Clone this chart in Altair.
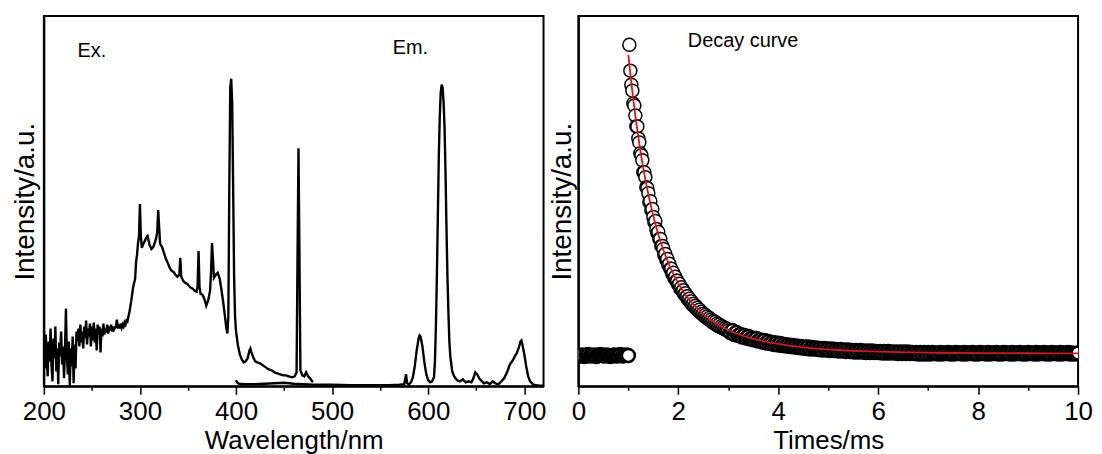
import altair as alt
import pandas as pd

# ---------------- data ----------------
# Excitation spectrum: noisy part sampled every 1 nm from 200 to 290 nm
EX_NOISY_START = 200
EX_NOISY_INT = [40, 18, 52, 30, 10, 45, 25, 58, 20, 5, 48, 28, 60, 15, 38, 2, 44, 30,
                55, 22, 40, 8, 35, 78, 30, 12, 45, 0, 38, 20, 50, 3, 42, 18, 55,
                45, 58, 40, 62, 44, 55, 38, 60, 48, 66, 42, 58, 50, 63, 40, 60, 46, 64, 44, 58,
                36, 62, 52, 60, 34, 58, 50, 63, 52, 58, 54, 62, 53, 60, 56, 62, 55, 60, 57, 59,
                60, 67, 58, 62, 58, 63, 59, 62, 60, 64, 62, 66, 65, 70, 74, 80]
# Excitation spectrum from 291 nm on
EX_WL = [291, 293, 295, 296, 297, 298, 299, 300, 301, 302, 303, 305, 307, 308, 310, 312, 314,
         316, 317, 318, 319, 320, 321, 323, 325, 327, 329, 331, 333, 335, 337, 339, 341, 342,
         343, 345, 347, 349, 351, 353, 355, 357, 359, 360, 361, 362, 363, 365, 367, 369, 371,
         373, 374, 375, 376, 377, 379, 381, 383, 385, 387, 389, 390, 391, 392, 393, 394, 395,
         396, 397, 398, 399, 400, 402, 404, 406, 408, 410, 412, 414, 415, 416, 418, 420, 422,
         425, 428, 431, 434, 437, 440, 443, 446, 449, 452, 455, 458, 461, 463, 464, 465, 466,
         467, 469, 471, 473, 475, 477, 480]
EX_INT = [86, 100, 108, 125, 132, 144, 150, 183, 150, 139, 142, 146, 150, 151, 142, 138, 140,
          146, 149, 155, 177, 160, 143, 140, 134, 128, 124, 119, 116, 115, 112, 110, 112, 129,
          110, 106, 104, 103, 101, 99, 98, 96, 95, 100, 136, 100, 93, 92, 88, 81, 86,
          96, 115, 144, 128, 109, 112, 114, 108, 96, 82, 66, 58, 53, 70, 200, 300, 309,
          285, 200, 110, 70, 55, 41, 32, 27, 24, 25, 28, 36, 38, 34, 29, 25, 24,
          23, 21, 19, 17, 16, 14, 13, 12, 11, 11, 10, 9, 10, 14, 130, 239, 130,
          16, 11, 10, 14, 10, 8, 4]

# Emission spectrum
EM_WL = [400, 401, 403, 410, 420, 430, 440, 450, 460, 470, 480, 500, 520, 540, 560, 570, 575, 577,
         578, 580, 582, 584, 586, 588, 590, 591, 592, 594, 596, 598, 600, 602, 604, 606, 607,
         608, 609, 610, 611, 612, 613, 614, 615, 616, 617, 618, 619, 620, 621, 622, 623, 625,
         627, 630, 633, 636, 639, 642, 645, 647, 649, 651, 653, 655, 658, 661, 664, 667, 670,
         673, 676, 679, 682, 685, 688, 690, 692, 694, 696, 697, 698, 700, 702, 704, 706, 709,
         712, 716, 720]
EM_INT = [6, 4, 2.5, 2, 2, 2.5, 3, 3.5, 2.5, 2, 1.5, 1.5, 1.2, 1.2, 1.2, 1.5, 2, 12,
          3, 2, 4, 9, 20, 36, 48, 51, 50, 40, 24, 12, 6, 4, 5, 9, 25,
          60, 110, 170, 230, 270, 295, 303, 300, 285, 260, 215, 160, 110, 75, 45, 30, 15,
          10, 6, 5, 7, 4, 5, 4, 8, 14, 12, 8, 6, 3, 4, 2, 5, 3,
          2, 5, 8, 14, 22, 26, 30, 33, 38, 45, 46, 42, 32, 20, 10, 5, 2,
          1, 0.5, 0.5]

# Decay curve: instrument sampling segments (start ms, step ms) and counts (a.u.)
PRE_START, PRE_STEP = 0.0, 0.04
FAST_START, FAST_STEP = 1.02, 0.02
SLOW_START, SLOW_STEP = 3.04, 0.04
PRE_INT = [31, 30.5, 31.5, 30, 31, 32, 30.5, 31, 31.5, 30, 31, 32, 31, 30.5, 31.5, 31,
           30, 31, 31.5, 30.5, 31, 32, 30.5, 31, 31.5, 31]
FAST_INT = [343, 317, 303, 297, 284, 282, 272, 261, 261, 249,
            245, 234, 232, 227, 215, 215, 210, 200, 199, 194,
            185, 186, 177, 178, 170, 165, 166, 158, 154, 155,
            148, 148, 141, 141, 138, 132, 133, 127, 128, 122,
            123, 118, 118, 113, 114, 109, 110, 106, 106, 102,
            103, 98, 99.5, 95.5, 96.5, 92.5, 93.5, 90, 90.5, 87,
            88, 84.5, 85.5, 82, 83, 80, 81, 78, 79, 76,
            77, 74, 75, 72.5, 73, 70.5, 71.5, 69, 70, 67.5,
            68.5, 66, 67, 64.5, 65.5, 63, 64.5, 62, 63, 60.5,
            62, 59.5, 60.5, 58.5, 59.5, 57.5, 58.5, 56.5, 57.5, 56]
SLOW_INT = [54, 56, 52, 54, 51, 52, 49.5, 51, 48.5,
            50, 47.5, 48.5, 46.5, 48, 45.5, 46.5, 44.5, 46, 43.5,
            45, 43, 44, 42, 43.5, 41.5, 43, 41, 42, 40.5,
            41.5, 40, 41, 39.5, 40.5, 39, 40, 38.5, 39.5, 38,
            39.5, 37.5, 39, 37.5, 38.5, 37, 38, 36.5, 38, 36.5,
            37.5, 36, 37.5, 36, 37, 35.5, 37, 35.5, 36.5, 35,
            36.5, 35, 36, 34.5, 36, 34.5, 36, 34.5, 35.5, 34,
            35.5, 34, 35.5, 34, 35, 34, 35, 33.5, 35, 33.5,
            35, 33.5, 34.5, 33.5, 34.5, 33, 34.5, 33, 34.5, 33,
            34.5, 33, 34, 33, 34, 32.5, 34, 32.5, 34, 32.5,
            34, 32.5, 34, 33, 33.5, 32.5, 34, 32.5, 33.5, 33,
            34, 32.5, 33.5, 32.5, 34, 33, 33.5, 32.5, 34, 32.5,
            33.5, 33, 34, 32.5, 33.5, 32.5, 34, 33, 33.5, 32.5,
            34, 32.5, 33.5, 33, 34, 32.5, 33.5, 32.5, 34, 33,
            33.5, 32.5, 34, 32.5, 33.5, 33, 34, 32.5, 33.5, 32.5,
            34, 33, 33.5, 32.5, 34, 32.5, 33.5, 33, 34, 32.5,
            33.5, 32.5, 34, 33, 33.5, 32.5, 34, 32.5, 33.5, 33,
            34, 32.5, 33.5, 32.5, 33, 33.5]

# Fitted curve (red line)
FIT_T = [1.00, 1.05, 1.10, 1.16, 1.22, 1.30, 1.39, 1.48, 1.58, 1.70, 1.82, 1.95, 2.10, 2.26,
         2.44, 2.64, 2.86, 3.10, 3.40, 3.75, 4.15, 4.60, 5.10, 5.70, 6.40, 7.20, 8.10, 9.00, 10.0]
FIT_INT = [333, 309.3, 287.8, 264.4, 243.5, 219.0, 195.3, 175.1, 156.0, 137.1, 121.6, 107.9,
           95.1, 84.4, 75.0, 66.9, 60.0, 54.3, 49.2, 44.8, 41.3, 38.6, 36.7, 35.3, 34.3, 33.7,
           33.3, 33.2, 33.1]

# Annotations
LEFT_TEXT = ["Ex.", "Em."]
LEFT_TEXT_WL = [235, 563]
LEFT_TEXT_INT = [331, 334]
RIGHT_TEXT = ["Decay curve"]
RIGHT_TEXT_T = [2.19]
RIGHT_TEXT_INT = [341]

WL_TICKS = [200, 250, 300, 350, 400, 450, 500, 550, 600, 650, 700]
T_TICKS = [0, 1, 2, 3, 4, 5, 6, 7, 8, 9, 10]

assert len(EX_NOISY_INT) == 91
assert len(EX_WL) == len(EX_INT)
assert len(EM_WL) == len(EM_INT)
assert len(PRE_INT) == 26 and len(FAST_INT) == 100 and len(SLOW_INT) == 175
assert len(FIT_T) == len(FIT_INT)

# ---------------- frames ----------------
ex_wl = [EX_NOISY_START + i for i in range(len(EX_NOISY_INT))] + EX_WL
ex_df = pd.DataFrame({"wl": ex_wl, "intensity": EX_NOISY_INT + EX_INT})
em_df = pd.DataFrame({"wl": EM_WL, "intensity": EM_INT})


def grid(start, step, n):
    return [round(start + step * i, 3) for i in range(n)]


dense_t = grid(PRE_START, PRE_STEP, len(PRE_INT)) + grid(SLOW_START, SLOW_STEP, len(SLOW_INT))
dense_v = PRE_INT + SLOW_INT
dense_df = pd.DataFrame({"t": dense_t, "intensity": dense_v, "order": list(range(len(dense_t)))})
fast_t = grid(FAST_START, FAST_STEP, len(FAST_INT))
fast_df = pd.DataFrame({"t": fast_t, "intensity": FAST_INT, "order": list(range(len(fast_t)))})
fit_df = pd.DataFrame({"t": FIT_T, "intensity": FIT_INT})
left_txt = pd.DataFrame({"wl": LEFT_TEXT_WL, "intensity": LEFT_TEXT_INT, "label": LEFT_TEXT})
right_txt = pd.DataFrame({"t": RIGHT_TEXT_T, "intensity": RIGHT_TEXT_INT, "label": RIGHT_TEXT})

FONT = "Liberation Sans"
W, H = 502, 372
LBL = 26
TTL = 26

y_scale = alt.Scale(domain=[0, 372], nice=False, zero=False)


def y_enc(pad):
    return alt.Y("intensity:Q", scale=y_scale,
                 axis=alt.Axis(title="Intensity/a.u.", labels=False, ticks=False,
                               titlePadding=pad, titleFontSize=28))


x_wl = alt.X("wl:Q", scale=alt.Scale(domain=[200, 720], nice=False, zero=False),
             axis=alt.Axis(title="Wavelength/nm", values=WL_TICKS,
                           labelExpr="datum.value % 100 === 0 ? datum.label : ''",
                           tickSize={"condition": {"test": "datum.value % 100 === 0", "value": 8},
                                     "value": 4},
                           labelFlush=False, labelOverlap=False, labelPadding=4,
                           titlePadding=3.5))

x_t = alt.X("t:Q", scale=alt.Scale(domain=[0, 10], nice=False, zero=False),
            axis=alt.Axis(title="Times/ms", values=T_TICKS,
                          labelExpr="datum.value % 2 === 0 ? datum.label : ''",
                          tickSize={"condition": {"test": "datum.value % 2 === 0", "value": 8},
                                    "value": 4},
                          labelFlush=False, labelOverlap=False, labelPadding=4,
                          titlePadding=3.5))

ex_line = alt.Chart(ex_df).mark_line(color="black", strokeWidth=2.4, clip=True).encode(
    x=x_wl, y=y_enc(4))
em_line = alt.Chart(em_df).mark_line(color="black", strokeWidth=2.4, clip=True).encode(
    x="wl:Q", y="intensity:Q")
left_text = alt.Chart(left_txt).mark_text(align="left", baseline="alphabetic", fontSize=20,
                                          font=FONT, color="black").encode(
    x="wl:Q", y="intensity:Q", text="label:N")

left = alt.layer(ex_line, em_line, left_text).properties(width=W, height=H)

# fast-decay points (drawn first)
fast_pts = alt.Chart(fast_df).mark_point(
    shape="circle", filled=True, fill="white", stroke="black",
    strokeWidth=1.5, size=170, opacity=1, clip=True).encode(
    x=x_t, y=y_enc(2), order="order:Q")
# densely overlapping baseline points (pre-trigger and long tail)
dense_pts = alt.Chart(dense_df).mark_point(
    shape="circle", filled=True, fill="white", stroke="black",
    strokeWidth=2.6, size=170, opacity=1, clip=True).encode(
    x="t:Q", y="intensity:Q", order="order:Q")
fit = alt.Chart(fit_df).mark_line(color="#e3101a", strokeWidth=1.8, clip=True,
                                  interpolate="monotone").encode(
    x="t:Q", y="intensity:Q")
right_text = alt.Chart(right_txt).mark_text(align="left", baseline="alphabetic", fontSize=20,
                                            font=FONT, color="black").encode(
    x="t:Q", y="intensity:Q", text="label:N")

right = alt.layer(fast_pts, dense_pts, fit, right_text).properties(width=W, height=H)

chart = alt.hconcat(left, right, spacing=0).properties(
    padding={"left": 3, "top": 6, "right": 0, "bottom": 0},
    background="white",
).configure_view(
    stroke="black", strokeWidth=2
).configure_axis(
    labelFont=FONT, titleFont=FONT, labelFontSize=LBL, titleFontSize=TTL,
    labelColor="black", titleColor="black", titleFontWeight="normal",
    domainColor="black", domainWidth=2, tickColor="black", tickWidth=1.5, grid=False,
)

chart.save("out.html", embed_options={"renderer": "svg", "actions": False})
